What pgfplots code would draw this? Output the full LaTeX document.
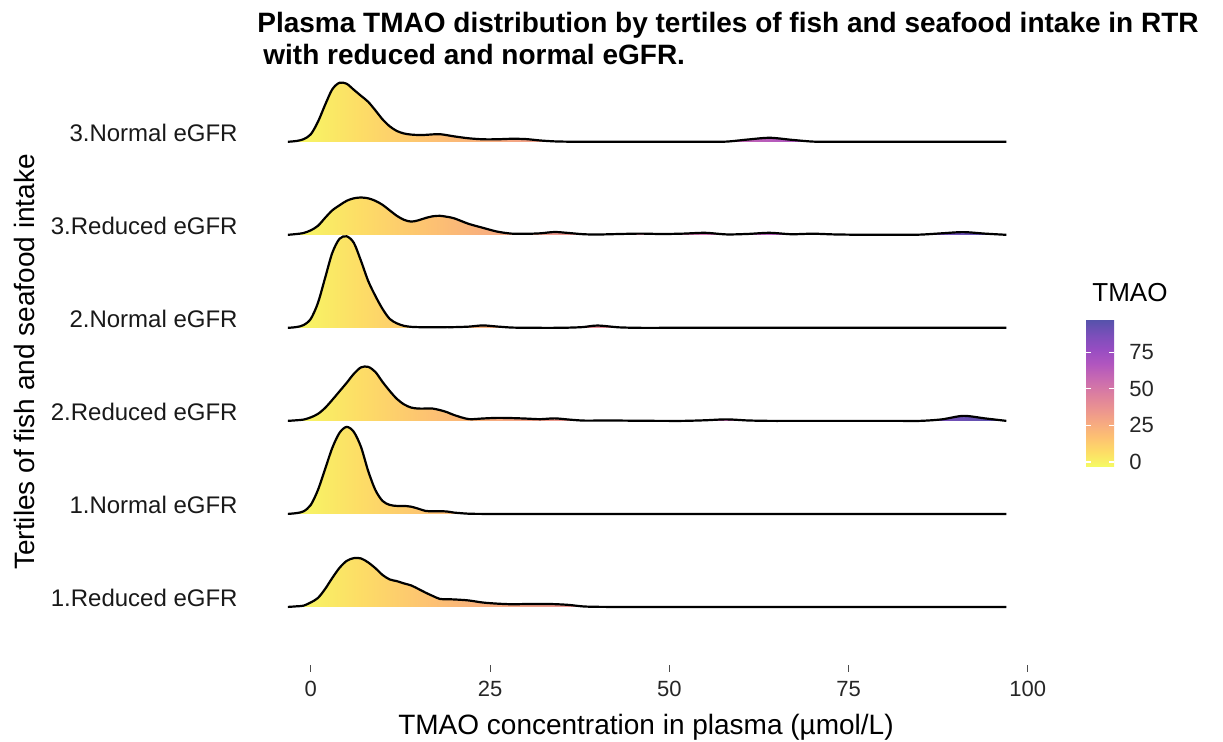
\documentclass[border=0pt]{standalone}
\usepackage{fontspec}
\setmainfont{Liberation Sans}
\usepackage{pgfplots}
\pgfplotsset{compat=1.18}
\usepackage{pgfplotstable}
\pgfplotsset{/pgf/number format/assume math mode=true}

\definecolor{p0}{RGB}{245,251,100}
\definecolor{p1}{RGB}{253,221,102}
\definecolor{p2}{RGB}{253,193,114}
\definecolor{p3}{RGB}{246,169,129}
\definecolor{p4}{RGB}{234,146,145}
\definecolor{p5}{RGB}{219,126,160}
\definecolor{p6}{RGB}{200,106,177}
\definecolor{p7}{RGB}{177,86,191}
\definecolor{p8}{RGB}{151,77,194}
\definecolor{p9}{RGB}{122,79,186}
\definecolor{p10}{RGB}{86,82,171}

\pgfdeclarehorizontalshading{plasmash}{100bp}{color(0bp)=(p0); color(25bp)=(p0); color(30bp)=(p1); color(35bp)=(p2); color(40bp)=(p3); color(45bp)=(p4); color(50bp)=(p5); color(55bp)=(p6); color(60bp)=(p7); color(65bp)=(p8); color(70bp)=(p9); color(75bp)=(p10); color(100bp)=(p10)}

% heights of the density curves (pixels of the reference), one column per ridge
\pgfplotstableread{
x r1 n1 r2 n2 r3 n3
-3.2 0 0 0 0 0 0
-2 0.6 0.8 0.6 0.8 0.8 0.8
-1 1.3 2.6 1.3 2.8 1.8 2.6
0 4.5 9 3.5 9 4.5 7.5
1 9 24 7 25 9 20
2 18 45 13 50 17 37
3 29 66 21 75 24.5 52.5
4 39 81 29.5 89 29.5 59
5 46 87 38 91.5 34 58
6 48.8 82 47 85 36.5 52
7 48.5 67 53.5 67 37.3 46
8 44.5 43 54 47 36.5 40
9 38.8 24 49 32 34 31.5
10 32 13 39 19 30 22.5
11 27.5 9 30 9 24.5 15.5
12 25.8 8 22 4.5 19 10.8
13 23.5 8 16.5 2 15 8.3
14 21.5 7.2 13.3 1 13.2 7.2
15 18 5.2 12.3 0.7 14.5 6.8
16 14.3 3 12.3 0.6 16.8 6.9
17 11 2.6 12.3 0.6 18.5 7.4
18 8 2.7 10.8 0.6 19 7.6
19 7.7 2.4 8.7 0.7 18 6.6
20 7.5 1.3 5.8 0.7 16.5 5.4
22 6.5 0.2 1.8 1.2 11 3.5
24 4.4 0 2.4 2.4 7 2.5
26 3.3 0 3 1.3 3.2 2.5
28 2.7 0 2.8 0.3 1.2 3
30 2.9 0 2.3 0.1 1 2.7
32 3 0 1.7 0 1.5 1.3
34 2.8 0 2.5 0 2.8 0.4
36 2 0 1.3 0.2 1.8 0.1
38 0.5 0 0.3 0.8 0.6 0
40 0.1 0 0.3 2.3 0.3 0
43 0 0 0.3 0.5 0.8 0
46 0 0 0.1 0 1.2 0
49 0 0 0 0 0.8 0
52 0 0 0 0 1.2 0
55 0 0 0.6 0 2 0
58 0 0 1.5 0 0.4 0.2
61 0 0 0.4 0 0.9 2.3
64 0 0 0 0 2 4
67 0 0 0 0 0.6 2
70 0 0 0 0 1.1 0.2
73 0 0 0 0 0.4 0
76 0 0 0 0 0.1 0
79 0 0 0 0 0 0
82 0 0 0 0 0 0
85 0 0 0 0 0.2 0
88 0 0 1.5 0 1.5 0
91 0 0 5 0 2.7 0
94 0 0 2.5 0 1.2 0
97 0 0 0 0 0 0
}\ridges

\begin{document}
\begin{tikzpicture}
\useasboundingbox (-126pt,-38.5pt) rectangle (485.5pt,332.5pt);
\begin{axis}[
  at={(0,0)}, anchor=south west,
  scale only axis, width=393.3pt, height=303pt,
  xmin=-8.2, xmax=101.5, ymin=-0.624, ymax=5.89,
  axis x line*=bottom, axis y line*=left,
  axis line style={draw=none},
  xtick={0,25,50,75,100},
  ytick={0,1,2,3,4,5},
  yticklabels={1.Reduced eGFR,1.Normal eGFR,2.Reduced eGFR,2.Normal eGFR,3.Reduced eGFR,3.Normal eGFR},
  tick align=outside, major tick length=3.5pt,
  xtick style={draw=black!70, line width=0.5pt},
  ytick style={draw=none},
  xticklabel style={font=\fontsize{11}{13}\selectfont, text=black!85, anchor=base, inner sep=0pt, yshift=-12.5pt},
  yticklabel style={font=\fontsize{12}{14}\selectfont, text=black!90, anchor=base east, inner sep=0pt, xshift=-3.5pt},
  point meta min=-3.2, point meta max=97,
  colormap={plasmaA}{rgb255(0cm)=(245,251,100); rgb255(1cm)=(253,221,102); rgb255(2cm)=(253,193,114); rgb255(3cm)=(246,169,129); rgb255(4cm)=(234,146,145); rgb255(5cm)=(219,126,160); rgb255(6cm)=(200,106,177); rgb255(7cm)=(177,86,191); rgb255(8cm)=(151,77,194); rgb255(9cm)=(122,79,186); rgb255(10cm)=(86,82,171)},
  colorbar,
  colorbar style={
    at={(408.5pt,99.15pt)}, anchor=south west,
    scale only axis, width=14pt, height=73.35pt,
    ytick={0,25,50,75},
    axis line style={draw=none},
    tick align=inside, major tick length=2.5pt,
    ytick pos=both, yticklabel pos=right,
    tick style={draw=white, line width=0.6pt},
    yticklabel style={font=\fontsize{11}{13}\selectfont, text=black!85, anchor=west, inner sep=0pt, xshift=7.5pt},
  },
]
% 3.Normal eGFR
\addplot[draw=none, shade, shading=plasmash, smooth, tension=0.5] table[x=x, y expr=\thisrow{n3}/93+5] {\ridges} -- cycle;
\addplot[black, line width=1.1pt, smooth, tension=0.5] table[x=x, y expr=\thisrow{n3}/93+5] {\ridges};
% 3.Reduced eGFR
\addplot[draw=none, shade, shading=plasmash, smooth, tension=0.5] table[x=x, y expr=\thisrow{r3}/93+4] {\ridges} -- cycle;
\addplot[black, line width=1.1pt, smooth, tension=0.5] table[x=x, y expr=\thisrow{r3}/93+4] {\ridges};
% 2.Normal eGFR
\addplot[draw=none, shade, shading=plasmash, smooth, tension=0.5] table[x=x, y expr=\thisrow{n2}/93+3] {\ridges} -- cycle;
\addplot[black, line width=1.1pt, smooth, tension=0.5] table[x=x, y expr=\thisrow{n2}/93+3] {\ridges};
% 2.Reduced eGFR
\addplot[draw=none, shade, shading=plasmash, smooth, tension=0.5] table[x=x, y expr=\thisrow{r2}/93+2] {\ridges} -- cycle;
\addplot[black, line width=1.1pt, smooth, tension=0.5] table[x=x, y expr=\thisrow{r2}/93+2] {\ridges};
% 1.Normal eGFR
\addplot[draw=none, shade, shading=plasmash, smooth, tension=0.5] table[x=x, y expr=\thisrow{n1}/93+1] {\ridges} -- cycle;
\addplot[black, line width=1.1pt, smooth, tension=0.5] table[x=x, y expr=\thisrow{n1}/93+1] {\ridges};
% 1.Reduced eGFR
\addplot[draw=none, shade, shading=plasmash, smooth, tension=0.5] table[x=x, y expr=\thisrow{r1}/93] {\ridges} -- cycle;
\addplot[black, line width=1.1pt, smooth, tension=0.5] table[x=x, y expr=\thisrow{r1}/93] {\ridges};
\end{axis}
% titles
\node[anchor=base west, inner sep=0pt, font=\bfseries\fontsize{14}{16}\selectfont] at (2.5pt,316pt) {Plasma TMAO distribution by tertiles of fish and seafood intake in RTR};
\node[anchor=base west, inner sep=0pt, font=\bfseries\fontsize{14}{16}\selectfont] at (5.5pt,300pt) {with reduced and normal eGFR.};
\node[anchor=base, inner sep=0pt, font=\fontsize{14}{16}\selectfont] at (197pt,-35pt) {TMAO concentration in plasma (µmol/L)};
\node[anchor=base, inner sep=0pt, rotate=90, font=\fontsize{14}{16}\selectfont] at (-108.5pt,151.5pt) {Tertiles of fish and seafood intake};
\node[anchor=base west, inner sep=0pt, font=\fontsize{13}{15}\selectfont] at (420pt,181.65pt) {TMAO};
\end{tikzpicture}
\end{document}
